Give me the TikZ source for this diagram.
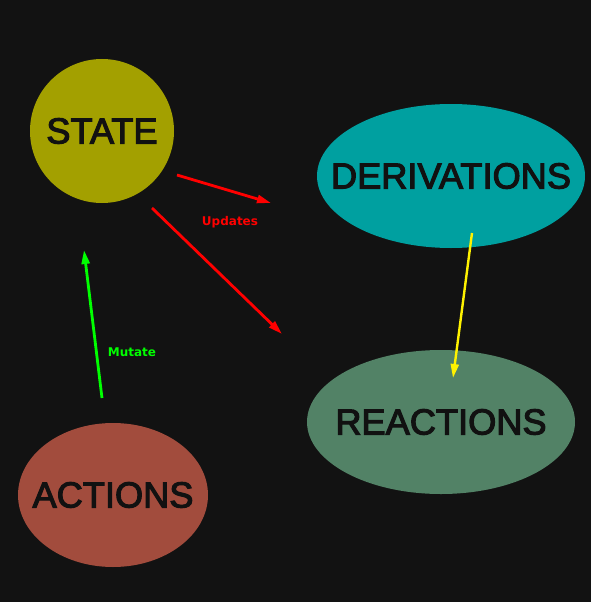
\documentclass[tikz,border=0pt]{standalone}
\usepackage{fontspec}
\newfontfamily\blobfont[FakeBold=3]{Liberation Sans}
\newfontfamily\tagfont{DejaVu Sans}
\usetikzlibrary{shapes.geometric,arrows.meta,positioning}
\definecolor{bgcol}{HTML}{121212}
\definecolor{statecol}{HTML}{A3A000}
\definecolor{derivcol}{HTML}{00A0A0}
\definecolor{reactcol}{HTML}{528266}
\definecolor{actcol}{HTML}{A24C3D}
\definecolor{inkcol}{HTML}{111111}
\newcommand{\blobtext}[1]{\makebox[0pt]{#1}}

\begin{document}
\begin{tikzpicture}[x=1pt,y=-1pt,
  blob/.style={ellipse, inner sep=0pt, outer sep=0pt, minimum width=268pt, minimum height=144pt,
    text=inkcol, font=\blobfont\fontsize{36.2}{40}\selectfont},
  flow/.style={line width=2.8pt, -{Triangle[length=14pt,width=8pt]}},
  tag/.style={font=\tagfont\bfseries\fontsize{12}{14}\selectfont}]
% background
\useasboundingbox (0,0) rectangle (591,602);
\fill[bgcol] (0,0) rectangle (591,602);
% nodes
\node[blob, circle, minimum size=144pt, fill=statecol] (state) at (102,131) {\blobtext{STATE}};
\node[blob, fill=derivcol] (deriv) at (451,176) {\blobtext{DERIVATIONS}};
\node[blob, fill=reactcol, below=246pt of deriv.center, anchor=center, xshift=-10pt] (react) {\blobtext{REACTIONS}};
\node[blob, minimum width=190pt, fill=actcol] (act) at (113,495) {\blobtext{ACTIONS}};
% arrow ends
\coordinate (s1) at (177,175); \coordinate (d1) at (271,203);
\coordinate (s2) at (152,208); \coordinate (r1) at (282,334);
\coordinate (a1) at (102,398); \coordinate (s3) at (84,250);
\coordinate (d2) at (472,233); \coordinate (r2) at (453,378);
% edges
\draw[flow, red] (s1) -- (d1);
\draw[flow, red] (s2) -- (r1);
\draw[flow, green] (a1) -- (s3);
\draw[flow, yellow, line width=2.4pt] (d2) -- (r2);
% labels
\node[tag, text=red] (upd) at (230,222) {Updates};
\node[tag, text=green] (mut) at (132,352) {Mutate};
\end{tikzpicture}
\end{document}
